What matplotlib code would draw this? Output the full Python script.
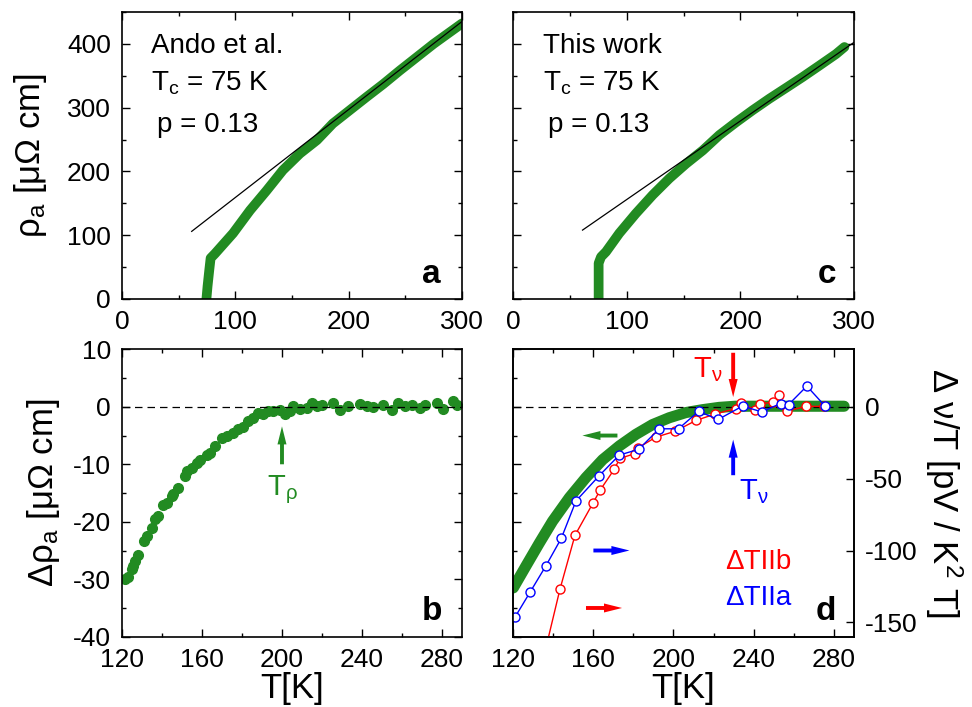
import matplotlib
matplotlib.use('Agg')
import matplotlib.pyplot as plt
from matplotlib.ticker import MultipleLocator

plt.rcParams['font.family'] = ['Liberation Sans', 'DejaVu Sans']
plt.rcParams['mathtext.fontset'] = 'custom'
plt.rcParams['mathtext.rm'] = 'Liberation Sans'
plt.rcParams['mathtext.it'] = 'Liberation Sans:italic'
plt.rcParams['mathtext.bf'] = 'Liberation Sans:bold'
plt.rcParams['axes.unicode_minus'] = False

GREEN = '#228B22'

# rho_a(T), Ando et al. and linear high-T fit
T_ando = [74.5, 75.5, 77, 78.2, 82, 98, 113, 127.6, 142, 157, 172, 186, 201, 216, 230.6, 245, 260, 275, 300]
rho_ando = [0, 20, 45, 64, 71, 103, 139, 170, 202, 228, 249, 275, 296, 317, 337, 358, 379, 400, 432]
T_fit_ando = [61.5, 300]
rho_fit_ando = [106, 435]

# rho_a(T), this work
T_this = [75.2, 75.2, 77.3, 81.7, 93.4, 108, 122.8, 137.5, 152.2, 167, 181.6, 196.3, 211, 225.7, 240.4, 255, 269.8, 284.4, 291.8]
rho_this = [0, 56, 66, 74, 103, 134, 163, 189, 212, 233, 257, 277, 296, 314, 331, 348, 366, 384, 395]
T_fit_this = [61, 300]
rho_fit_this = [108, 402]

# deviation from linearity, Ando et al.
T_dev = [121.5, 123, 124.8, 125.7, 126.5, 128.2, 131, 132.3, 134.8, 136.5, 138.2, 140.7, 142.3, 144.8,
         145.7, 148.2, 151.5, 152.3, 154.8, 157.3, 159, 162.3, 164, 166.5, 169.8, 172.3, 175.7, 178.2,
         180.7, 183.2, 185.7, 188.2, 190.7, 193.2, 195.7, 199, 201.5, 204, 205.7, 209, 212.3, 214.8,
         217.3, 219.8, 225.7, 229, 233.2, 239, 242.3, 245.7, 250.7, 254.8, 258.2, 261.5, 264.8, 269,
         271.5, 277.3, 280.7, 285.7, 287.3]
drho_dev = [-30, -29.6, -28.3, -27.7, -26.8, -25.7, -23.4, -22.5, -21, -19.6, -19, -17, -16.7, -15.5,
            -15.1, -14.1, -12, -11.2, -10.6, -9.7, -9.2, -8.3, -8, -6.8, -5.4, -5.1, -4.5, -3.9,
            -3.5, -2.5, -1.9, -1, -1.3, -0.75, -0.75, -0.5, -1.3, -0.75, 0.1, -0.3, -0.2, 0.7,
            0.1, 0.4, 0.7, -0.6, 0.1, 0.5, 0.2, 0, 0.4, -0.6, 0.7, 0.1, 0.4, -0.2,
            0.4, 0.7, -0.3, 1, 0.3]

# deviation, this work
T_band = [120, 126.3, 133, 139.6, 148, 156.3, 164.6, 173, 181.2, 189.5, 197.9, 206.2, 214.5, 222.8, 231, 239.5, 256, 285.2]
drho_band = [-31.5, -27.7, -23.7, -19.9, -15.8, -12.3, -9.2, -6.8, -4.8, -3.1, -1.9, -1.0, -0.5, -0.1, 0.1, 0.1, 0.1, 0.1]

# Nernst deviation, thermal gradient along a
T_nu_a = [121, 128.5, 136.3, 144, 151.3, 162.6, 172.9, 182.6, 192.9, 202.5, 212.5, 222.3, 234.5, 244,
          253.5, 257.5, 266.6, 275.7]
dnu_a = [-146, -128.7, -110.6, -91.4, -65.5, -48.4, -33.6, -29.6, -15.3, -15.3, -3.2, -8.8, 0.5, -3.5,
         2.3, 1.6, 14.4, 0.5]

# Nernst deviation, thermal gradient along b
T_nu_b = [128.5, 143.3, 150.8, 159.9, 163.4, 170.4, 173.2, 180.7, 182.4, 191.2, 200.9, 211.2, 220.8,
          231.2, 233.9, 240.8, 243.3, 249.7, 252.5, 256.6, 266, 275.3]
dnu_b = [-213, -126.9, -89.4, -66.7, -57.9, -43.5, -35.9, -32.6, -28.5, -21.1, -17, -9.5, -5,
         -1.2, 2.9, -2.5, 2.2, 3.1, 7.9, -3, 0.3, 0.3]

fig = plt.figure(figsize=(9.72, 7.07), dpi=100)
ax_a = fig.add_axes([0.1255, 0.5771, 0.3498, 0.406])
ax_c = fig.add_axes([0.5281, 0.5771, 0.3502, 0.406])
ax_b = fig.add_axes([0.1255, 0.0994, 0.3498, 0.4065])
ax_d = fig.add_axes([0.5281, 0.0994, 0.3502, 0.4065])


def style(ax, left=True, right=True):
    for s in ax.spines.values():
        s.set_linewidth(1.2)
    ax.tick_params(which='both', direction='in', top=True, left=left, right=right,
                   width=1, labelsize=19, pad=8)
    ax.tick_params(which='major', length=5.5)
    ax.tick_params(which='minor', length=3)


def arrow(ax, tail, tip, color):
    ax.annotate('', xy=tip, xytext=tail,
                arrowprops=dict(arrowstyle='simple,head_length=1.3,head_width=0.65,tail_width=0.28',
                                color=color, lw=0, shrinkA=0, shrinkB=0, mutation_scale=10))


# top row: resistivity
for ax, T, rho, Tf, rf, who in [(ax_a, T_ando, rho_ando, T_fit_ando, rho_fit_ando, 'Ando et al.'),
                                (ax_c, T_this, rho_this, T_fit_this, rho_fit_this, 'This work')]:
    ax.plot(T, rho, color=GREEN, lw=7, solid_capstyle='round', solid_joinstyle='round')
    ax.plot(Tf, rf, color='black', lw=0.9)
    ax.set_xlim(0, 300)
    ax.set_ylim(0, 450)
    ax.xaxis.set_major_locator(MultipleLocator(100))
    ax.xaxis.set_minor_locator(MultipleLocator(50))
    ax.yaxis.set_major_locator(MultipleLocator(100))
    ax.yaxis.set_minor_locator(MultipleLocator(50))
    style(ax)
    ax.text(26, 385, who, fontsize=20)
    ax.text(26, 327, r'$\mathregular{T_c}$ = 75 K', fontsize=20)
    ax.text(30.5, 262, 'p = 0.13', fontsize=20)

ax_a.set_ylabel(r'$\mathregular{\rho_a}$ [μΩ cm]', fontsize=25)
ax_a.yaxis.set_label_coords(-0.215, 0.5)
ax_c.tick_params(labelleft=False)
ax_a.text(281, 25, 'a', fontsize=24, fontweight='bold', ha='right')
ax_c.text(285, 25, 'c', fontsize=24, fontweight='bold', ha='right')

# bottom left: deviation, Ando et al.
ax_b.plot(T_dev, drho_dev, 'o', color=GREEN, ms=7, mec=GREEN)
ax_b.axhline(0, color='black', lw=0.9, ls=(0, (6, 4)), zorder=5)
ax_b.set_xlim(120, 290)
ax_b.set_ylim(-40, 10)
ax_b.xaxis.set_major_locator(MultipleLocator(40))
ax_b.xaxis.set_minor_locator(MultipleLocator(20))
ax_b.yaxis.set_major_locator(MultipleLocator(10))
ax_b.yaxis.set_minor_locator(MultipleLocator(5))
style(ax_b)
ax_b.set_xlabel('T[K]', fontsize=25, labelpad=0)
ax_b.set_ylabel(r'$\mathregular{\Delta\rho_a}$ [μΩ cm]', fontsize=25)
ax_b.yaxis.set_label_coords(-0.175, 0.5)
arrow(ax_b, (200, -10), (200, -3.4), GREEN)
ax_b.text(200, -14.5, r'$\mathregular{T_\rho}$', fontsize=21, color=GREEN, ha='center', va='center')
ax_b.text(280, -37.1, 'b', fontsize=24, fontweight='bold', ha='right')

# bottom right: deviation, this work, with Nernst signal on the right axis
ax_d.plot(T_band, drho_band, color=GREEN, lw=8, solid_capstyle='round', solid_joinstyle='round')
ax_d.axhline(0, color='black', lw=0.9, ls=(0, (6, 4)), zorder=5)
ax_d.set_xlim(120, 290)
ax_d.set_ylim(-40, 10)
ax_d.xaxis.set_major_locator(MultipleLocator(40))
ax_d.xaxis.set_minor_locator(MultipleLocator(20))
ax_d.yaxis.set_major_locator(MultipleLocator(10))
ax_d.yaxis.set_minor_locator(MultipleLocator(5))
style(ax_d, right=False)
ax_d.tick_params(labelleft=False)
ax_d.set_xlabel('T[K]', fontsize=25, labelpad=0)

ax_n = ax_d.twinx()
ax_n.plot(T_nu_b, dnu_b, 'o-', color='red', mfc='white', mec='red', ms=6.5, mew=1, lw=1)
ax_n.plot(T_nu_a, dnu_a, 'o-', color='blue', mfc='white', mec='blue', ms=6.5, mew=1, lw=1)
ax_n.set_ylim(-160, 40)
ax_n.set_yticks([0, -50, -100, -150])
for s in ax_n.spines.values():
    s.set_linewidth(1.2)
ax_n.tick_params(direction='in', length=5.5, width=1, labelsize=19, pad=8)
ax_n.set_ylabel(r'Δ ν/T [pV / K$\mathregular{^2}$ T]', fontsize=25, rotation=270, va='bottom')
ax_n.yaxis.set_label_coords(1.205, 0.5)

arrow(ax_n, (172, -20), (154.5, -20), GREEN)
arrow(ax_n, (160, -100), (178, -100), 'blue')
arrow(ax_n, (156.3, -140), (174.3, -140), 'red')
arrow(ax_n, (229.8, 37.6), (229.8, 6.8), 'red')
arrow(ax_n, (229.8, -47.6), (229.8, -22.8), 'blue')
ax_n.text(217, 26, r'$\mathregular{T_\nu}$', fontsize=21, color='red', ha='center', va='center')
ax_n.text(240.3, -59, r'$\mathregular{T_\nu}$', fontsize=21, color='blue', ha='center', va='center')
ax_n.text(226, -108, 'ΔTIIb', fontsize=20, color='red', va='center')
ax_n.text(226, -133, 'ΔTIIa', fontsize=20, color='blue', va='center')
ax_n.text(281.4, -148.4, 'd', fontsize=24, fontweight='bold', ha='right')

fig.savefig('out.png', dpi=100)
